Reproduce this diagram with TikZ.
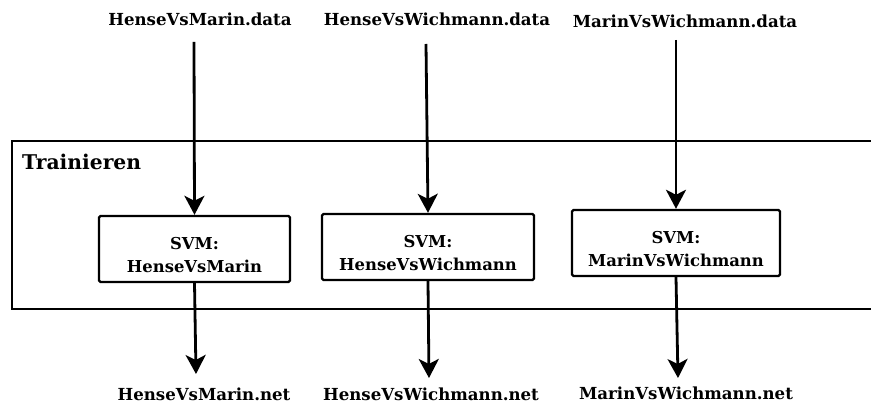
\documentclass[tikz,border=0pt]{standalone}
\usepackage{fontspec}
\setmainfont{DejaVu Serif}
\usetikzlibrary{arrows.meta}
\begin{document}
\begin{tikzpicture}[x=1pt,y=-1pt,
  file/.style={font=\bfseries\fontsize{16.6}{19}\selectfont, inner sep=0pt},
  svmbox/.style={draw, line width=2.4pt, rounded corners=1.5pt, inner sep=0pt,
    font=\bfseries\fontsize{16.4}{23}\selectfont, align=center},
  flow/.style={line width=2.8pt, -{Stealth[length=19pt,width=20pt,inset=5pt]}}]
\useasboundingbox (0,0) rectangle (871,403);
% training frame, running off the right edge
\draw[line width=2.8pt] (885,141) -- (12,141) -- (12,309) -- (885,309);
\node[anchor=west, font=\bfseries\fontsize{20.3}{24}\selectfont, inner sep=0pt] (train) at (22,162) {Trainieren};
% input files
\node[file] (d1) at (200,19) {HenseVsMarin.data};
\node[file] (d2) at (437,19) {HenseVsWichmann.data};
\node[file] (d3) at (685,21) {MarinVsWichmann.data};
% SVM boxes (strut pushes the two lines a little below centre)
\node[svmbox, minimum width=191pt, minimum height=66pt] (s1) at (194.5,249) {\rule{0pt}{24pt}SVM:\\HenseVsMarin};
\node[svmbox, minimum width=212pt, minimum height=66pt] (s2) at (428,247) {\rule{0pt}{24pt}SVM:\\HenseVsWichmann};
\node[svmbox, minimum width=208pt, minimum height=66pt] (s3) at (676,243) {\rule{0pt}{24pt}SVM:\\MarinVsWichmann};
% output files
\node[file] (n1) at (204,394) {HenseVsMarin.net};
\node[file] (n2) at (431,394.5) {HenseVsWichmann.net};
\node[file] (n3) at (686,393) {MarinVsWichmann.net};
% arrow start/end points
\coordinate (a1) at (194,42);
\coordinate (a2) at (426,44);
\coordinate (a3) at (676,40);
\coordinate (b1) at (196,374);
\coordinate (b2) at (429,378);
\coordinate (b3) at (678,378);
\draw[flow] (a1) -- (s1.north);
\draw[flow] (a2) -- (s2.north);
\draw[flow] (a3) -- (s3.north);
\draw[flow] (s1.south) -- (b1);
\draw[flow] (s2.south) -- (b2);
\draw[flow] (s3.south) -- (b3);
\end{tikzpicture}
\end{document}
